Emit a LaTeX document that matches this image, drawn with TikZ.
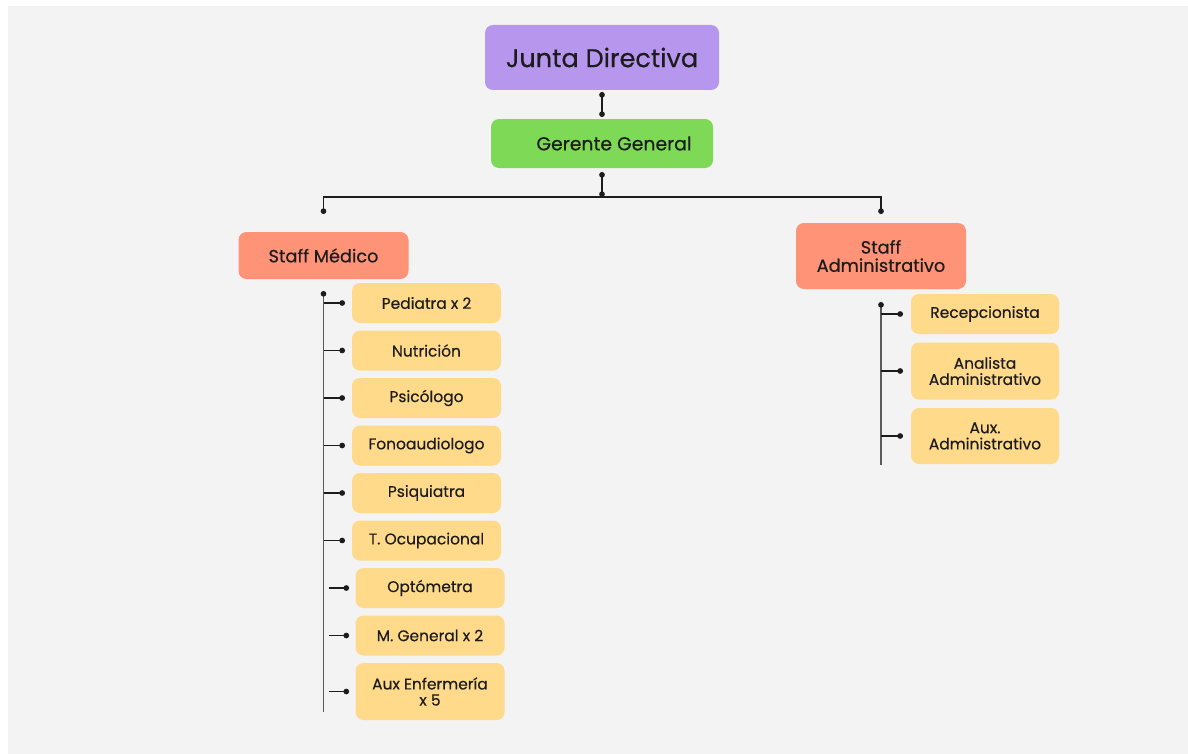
\documentclass[tikz,border=0pt]{standalone}
\usepackage{fontspec}
\setmainfont{Poppins}[FakeBold=0.4]
\usepackage{tikz}
\usetikzlibrary{positioning,calc,arrows.meta}

\definecolor{bggray}{RGB}{243,243,243}
\definecolor{jdfill}{RGB}{183,150,238}
\definecolor{ggfill}{RGB}{126,217,87}
\definecolor{stafffill}{RGB}{255,147,120}
\definecolor{itemfill}{RGB}{255,218,138}
\definecolor{ink}{RGB}{28,28,28}
\definecolor{spinegray}{RGB}{90,90,90}

\tikzset{
	box/.style={rounded corners=0.2cm,text=ink,align=center,inner sep=0pt,outer sep=0pt},
	staff/.style={box,fill=stafffill,minimum width=4.25cm,font=\fontsize{12.6}{13}\selectfont},
	item/.style={box,fill=itemfill,minimum width=3.725cm,minimum height=1cm,font=\fontsize{11}{11.5}\selectfont},
	conn/.style={draw=ink,line width=1pt},
	spine/.style={draw=spinegray,line width=1pt}
}

\begin{document}
\begin{tikzpicture}
	\fill[white] (0,0) rectangle (29.7,-18.85);
	\fill[bggray] (0.2,-0.15) rectangle (29.7,-18.85);
	
	\node[box,fill=jdfill,minimum width=5.85cm,minimum height=1.625cm,font=\fontsize{18.2}{19}\selectfont] (jd) at (15.05,-1.4375) {Junta Directiva};
	
	\node[box,fill=ggfill,below=0.725cm of jd,minimum width=5.55cm,minimum height=1.225cm,font=\fontsize{13.4}{14}\selectfont] (gg) {\hspace*{0.6cm}Gerente General};
	
	\draw[conn,{Circle[length=4pt]}-{Circle[length=4pt]}] ([yshift=-0.05cm]jd.south)--([yshift=0.05cm]gg.north);
	
	\coordinate (bus) at ([yshift=-0.725cm]gg.south);
	\draw[conn,{Circle[length=4pt]}-{Circle[length=4pt]}] ([yshift=-0.1cm]gg.south)--(bus);
	
	\node[staff,minimum height=1.175cm] (sm) at (8.0875,-6.3875) {Staff Médico};
	\node[staff,minimum height=1.65cm] (sa) at (22.025,-6.4) {Staff\\Administrativo};
	
	\draw[conn,-{Circle[length=4pt]}] (bus) -| ([yshift=0.45cm]sm.north);
	\draw[conn,-{Circle[length=4pt]}] (bus) -| ([yshift=0.225cm]sa.north);
	
	\node[item,anchor=north west] (m1) at ([xshift=0.7125cm,yshift=-0.1cm]sm.south) {Pediatra x 2};
	\node[item,below=0.1875cm of m1] (m2) {Nutrición};
	\node[item,below=0.1875cm of m2] (m3) {Psicólogo};
	\node[item,below=0.1875cm of m3] (m4) {Fonoaudiologo};
	\node[item,below=0.1875cm of m4] (m5) {Psiquiatra};
	\node[item,below=0.1875cm of m5] (m6) {T. Ocupacional};
	\node[item,below=0.1875cm of m6,xshift=0.0875cm] (m7) {Optómetra};
	\node[item,below=0.1875cm of m7] (m8) {M. General x 2};
	\node[item,below=0.1875cm of m8,minimum height=1.425cm] (m9) {Aux Enfermería\\x 5};
	
	\coordinate (ls) at ([yshift=-0.3cm]sm.south);
	\draw[spine,{Circle[length=4pt,color=ink]}-] (ls)--([yshift=0.2cm]ls |- m9.south);
	\foreach \n in {m1,m2,m3,m4,m5,m6}
		\draw[conn,-{Circle[length=4pt]}] (ls |- \n.west)--([xshift=-0.175cm]\n.west);
	\foreach \n in {m7,m8,m9}
		\draw[conn,-{Circle[length=4pt]}] ([xshift=0.125cm]ls |- \n.west)--([xshift=-0.16cm]\n.west);
	
	\node[item,anchor=north west,minimum width=3.7cm] (a1) at ([xshift=0.75cm,yshift=-0.125cm]sa.south) {Recepcionista};
	\node[item,below=0.2125cm of a1,minimum width=3.7cm,minimum height=1.425cm] (a2) {Analista\\Administrativo};
	\node[item,below=0.2125cm of a2,minimum width=3.7cm,minimum height=1.4cm] (a3) {Aux.\\Administrativo};
	
	\coordinate (rs) at ([yshift=-0.325cm]sa.south);
	\draw[spine,{Circle[length=4pt,color=ink]}-] (rs)--([yshift=-0.025cm]rs |- a3.south);
	\foreach \n in {a1,a2,a3}
		\draw[conn,-{Circle[length=4pt]}] (rs |- \n.west)--([xshift=-0.2cm]\n.west);
\end{tikzpicture}
\end{document}
